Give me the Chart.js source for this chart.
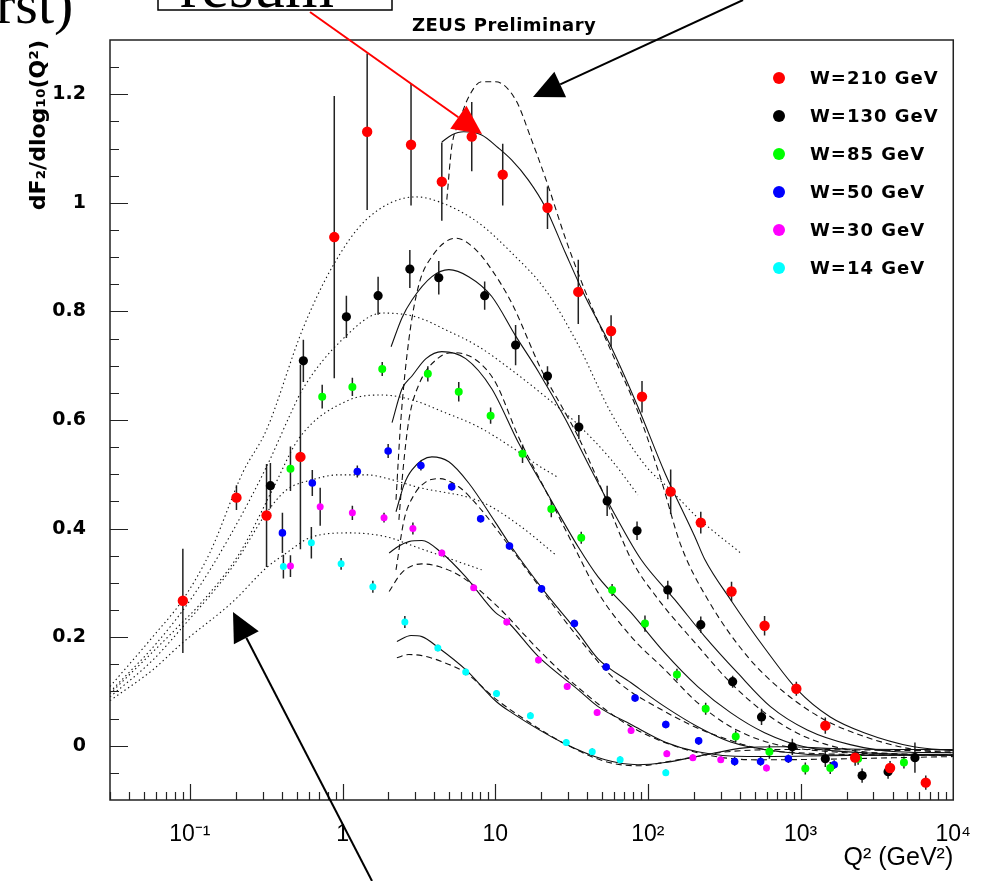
<!DOCTYPE html>
<html>
<head>
<meta charset="utf-8">
<script src="https://cdn.jsdelivr.net/npm/chart.js@4.4.0/dist/chart.umd.min.js"></script>
<style>
  html, body { margin: 0; padding: 0; background: #fff; }
  canvas { display: block; }
</style>
</head>
<body>
<canvas id="zeus" width="992" height="881"></canvas>
<script>
// Series labels and marker colours
const seriesLabels = ['W=210 GeV', 'W=130 GeV', 'W=85 GeV', 'W=50 GeV', 'W=30 GeV', 'W=14 GeV'];
const seriesColors = ['#ff0000', '#000000', '#00ff00', '#0000ff', '#ff00ff', '#00ffff'];

// Measured points: [Q2, dF2/dlog10(Q2), error]
const pts210 = [[0.09, 0.267, 0.096], [0.202, 0.457, 0.023], [0.318, 0.424, 0.095], [0.530, 0.532, 0.17],
  [0.883, 0.937, 0.26], [1.45, 1.131, 0.144], [2.81, 1.107, 0.112], [4.47, 1.039, 0.072], [7.02, 1.122, 0.064],
  [11.2, 1.052, 0.057], [22.0, 0.991, 0.039], [35.0, 0.836, 0.059], [57.4, 0.764, 0.029], [91.5, 0.643, 0.029],
  [141, 0.468, 0.041], [222, 0.411, 0.02], [353, 0.284, 0.018], [581, 0.221, 0.018], [938, 0.105, 0.013],
  [1452, 0.037, 0.015], [2277, -0.022, 0.015], [3855, -0.041, 0.013], [6607, -0.068, 0.013]];
const pts130 = [[0.337, 0.479, 0.042], [0.554, 0.709, 0.039], [1.06, 0.790, 0.039], [1.71, 0.829, 0.035],
  [2.76, 0.878, 0.035], [4.27, 0.862, 0.031], [8.53, 0.829, 0.026], [13.6, 0.738, 0.037], [22.0, 0.681, 0.018],
  [35.3, 0.587, 0.022], [54.1, 0.451, 0.028], [84.9, 0.396, 0.017], [135, 0.287, 0.017], [222, 0.223, 0.015],
  [359, 0.118, 0.011], [555, 0.053, 0.015], [883, -0.002, 0.015], [1452, -0.024, 0.015], [2529, -0.055, 0.013],
  [3741, -0.048, 0.013], [5610, -0.022, 0.028]];
const pts85 = [[0.456, 0.510, 0.041], [0.736, 0.643, 0.022], [1.16, 0.661, 0.017], [1.82, 0.694, 0.013],
  [3.62, 0.685, 0.014], [5.77, 0.652, 0.018], [9.33, 0.608, 0.015], [15.1, 0.538, 0.017], [23.3, 0.436, 0.015],
  [36.6, 0.383, 0.011], [58.3, 0.287, 0.011], [95.7, 0.225, 0.015], [155, 0.131, 0.011], [239, 0.068, 0.011],
  [376, 0.017, 0.011], [625, -0.011, 0.013], [1074, -0.042, 0.011], [1564, -0.041, 0.011], [2382, -0.024, 0.011],
  [4753, -0.031, 0.011]];
const pts50 = [[0.404, 0.392, 0.037], [0.634, 0.484, 0.024], [1.25, 0.505, 0.011], [1.99, 0.543, 0.013],
  [3.26, 0.516, 0.009], [5.19, 0.477, 0.007], [8.03, 0.418, 0.007], [12.4, 0.368, 0.007], [20.1, 0.289, 0.007],
  [33.0, 0.225, 0.007], [53.3, 0.145, 0.007], [82.4, 0.088, 0.007], [131, 0.039, 0.007], [215, 0.009, 0.007],
  [370, -0.029, 0.008], [547, -0.029, 0.008], [832, -0.024, 0.008], [1660, -0.035, 0.008]];
const pts30 = [[0.456, 0.331, 0.02], [0.714, 0.440, 0.035], [1.16, 0.429, 0.013], [1.87, 0.420, 0.009],
  [2.89, 0.400, 0.011], [4.47, 0.355, 0.006], [7.23, 0.291, 0.006], [11.9, 0.228, 0.006], [19.2, 0.158, 0.006],
  [29.6, 0.109, 0.006], [46.5, 0.061, 0.006], [77.6, 0.028, 0.006], [133, -0.015, 0.006], [197, -0.022, 0.006],
  [300, -0.026, 0.006], [598, -0.041, 0.006]];
const pts14 = [[0.410, 0.330, 0.022], [0.625, 0.374, 0.029], [0.979, 0.335, 0.011], [1.58, 0.293, 0.011],
  [2.56, 0.228, 0.011], [4.21, 0.180, 0.006], [6.41, 0.136, 0.006], [10.2, 0.096, 0.006], [17.0, 0.055, 0.006],
  [29.2, 0.006, 0.006], [43.2, -0.011, 0.006], [65.8, -0.026, 0.006], [131, -0.050, 0.006]];

// Model curves: [Q2, value]
const solid210 = [[4.47, 1.112], [5.19, 1.125], [6.22, 1.131], [8.15, 1.125], [10.5, 1.101], [12.8, 1.079],
  [16.5, 1.042], [21.3, 0.992], [28.8, 0.908], [38.9, 0.827], [57.4, 0.735], [86.1, 0.624], [129, 0.503],
  [203, 0.385], [236, 0.343], [348, 0.269], [581, 0.180], [953, 0.103], [1564, 0.053], [2606, 0.024],
  [5520, -0.002], [10000, -0.009]];
const dashed210 = [[4.82, 1.006], [5.19, 1.103], [5.77, 1.147], [6.70, 1.195], [8.15, 1.223], [10.05, 1.223],
  [13.6, 1.190], [17.3, 1.116], [22.3, 1.030], [28.8, 0.935], [38.9, 0.837], [57.4, 0.727], [86.1, 0.615],
  [122, 0.490], [164, 0.370], [247, 0.269], [450, 0.164], [784, 0.098], [1430, 0.048], [2606, 0.017],
  [5520, -0.007], [10000, -0.013]];
const solid130 = [[2.08, 0.735], [2.45, 0.788], [2.85, 0.821], [3.85, 0.864], [4.97, 0.877], [6.70, 0.864],
  [9.47, 0.828], [13.6, 0.755], [19.2, 0.689], [28.8, 0.602], [42.6, 0.508], [61.0, 0.425], [90.2, 0.343],
  [150, 0.269], [236, 0.201], [387, 0.134], [635, 0.072], [1107, 0.029], [2113, 0.002], [4274, -0.011],
  [10000, -0.013]];
const dashed130 = [[2.24, 0.453], [2.41, 0.600], [2.72, 0.748], [3.16, 0.849], [3.85, 0.901], [5.52, 0.935],
  [7.45, 0.914], [9.47, 0.877], [12.8, 0.816], [20.1, 0.692], [28.8, 0.613], [35.0, 0.569], [49.4, 0.475],
  [77.6, 0.344], [116, 0.271], [212, 0.184], [348, 0.116], [581, 0.061], [1059, 0.017], [2020, -0.007],
  [4274, -0.015], [10000, -0.017]];
const solid85 = [[2.11, 0.595], [2.45, 0.657], [2.85, 0.681], [3.52, 0.713], [4.47, 0.726], [6.41, 0.713],
  [9.47, 0.658], [14.2, 0.558], [21.3, 0.471], [35.0, 0.366], [47.2, 0.311], [77.6, 0.245], [129, 0.171],
  [212, 0.109], [348, 0.061], [581, 0.024], [1059, -0.002], [2606, -0.013], [10000, -0.017]];
const dashed85 = [[2.34, 0.416], [2.49, 0.508], [2.72, 0.600], [3.16, 0.665], [4.27, 0.715], [5.35, 0.724],
  [7.45, 0.711], [10.05, 0.669], [14.2, 0.569], [21.3, 0.471], [32.4, 0.370], [47.2, 0.282], [77.6, 0.201],
  [129, 0.140], [212, 0.079], [348, 0.035], [635, 0.005], [1564, -0.011], [10000, -0.017]];
const solid50 = [[2.24, 0.431], [2.53, 0.481], [2.85, 0.508], [3.85, 0.532], [4.97, 0.523], [6.70, 0.484],
  [10.05, 0.411], [12.8, 0.366], [21.3, 0.282], [35.0, 0.208], [47.2, 0.160], [77.6, 0.116], [129, 0.072],
  [212, 0.035], [348, 0.007], [738, -0.011], [1564, -0.017], [10000, -0.017]];
const dashed50 = [[2.24, 0.324], [2.53, 0.416], [2.94, 0.462], [3.52, 0.486], [4.27, 0.492], [5.77, 0.477],
  [7.80, 0.440], [12.2, 0.370], [21.3, 0.278], [35.0, 0.199], [61.0, 0.122], [129, 0.063], [273, 0.020],
  [738, -0.011], [10000, -0.018]];
const solid30 = [[2.02, 0.355], [2.34, 0.368], [2.72, 0.376], [3.31, 0.378], [4.47, 0.355], [6.41, 0.311],
  [10.05, 0.245], [11.7, 0.232], [19.2, 0.164], [35.0, 0.103], [47.2, 0.072], [77.6, 0.039], [129, 0.007],
  [212, -0.011], [450, -0.020], [2020, -0.018], [10000, -0.017]];
const dashed30 = [[2.02, 0.284], [2.45, 0.319], [3.31, 0.335], [4.27, 0.330], [6.04, 0.311], [10.05, 0.260],
  [19.2, 0.177], [35.0, 0.107], [77.6, 0.035], [212, -0.013], [522, -0.026], [10000, -0.020]];
const solid14 = [[2.27, 0.192], [2.81, 0.203], [3.31, 0.201], [4.27, 0.180], [6.41, 0.140], [10.2, 0.081],
  [12.8, 0.061], [27.1, 0.007], [52.5, -0.026], [86.1, -0.035], [129, -0.031], [236, -0.017], [430, -0.004],
  [738, -0.002], [2020, -0.006], [10000, -0.007]];
const dashed14 = [[2.27, 0.162], [2.72, 0.168], [3.31, 0.166], [4.47, 0.155], [6.41, 0.134], [10.2, 0.085],
  [16.5, 0.044], [27.1, 0.007], [52.5, -0.029], [86.1, -0.037], [157, -0.026], [333, -0.011], [953, -0.007],
  [10000, -0.010]];
const dotted210 = [[0.030, 0.109], [0.0573, 0.201], [0.0899, 0.269], [0.135, 0.355], [0.222, 0.503],
  [0.318, 0.582], [0.546, 0.766], [0.857, 0.882], [1.43, 0.969], [3.03, 1.011], [4.47, 1.000], [7.80, 0.963],
  [12.8, 0.908], [21.3, 0.840], [35.0, 0.738], [57.4, 0.613], [95.7, 0.517], [141, 0.471], [212, 0.420],
  [405, 0.355]];
const dotted130 = [[0.030, 0.099], [0.061, 0.190], [0.104, 0.274], [0.182, 0.385], [0.318, 0.514],
  [0.470, 0.619], [0.546, 0.656], [0.995, 0.748], [1.82, 0.797], [3.03, 0.790], [4.75, 0.766], [7.80, 0.735],
  [12.8, 0.692], [21.3, 0.643], [35.0, 0.591], [57.4, 0.527], [86.1, 0.462]];
const dotted85 = [[0.030, 0.096], [0.0573, 0.173], [0.0899, 0.228], [0.116, 0.260], [0.212, 0.355],
  [0.347, 0.471], [0.521, 0.567], [1.11, 0.637], [1.82, 0.646], [2.85, 0.637], [4.75, 0.613], [7.80, 0.587],
  [12.8, 0.550], [19.2, 0.516], [25.9, 0.494]];
const dotted50 = [[0.030, 0.090], [0.0573, 0.158], [0.0899, 0.219], [0.191, 0.330], [0.318, 0.429],
  [0.429, 0.471], [0.634, 0.490], [0.951, 0.499], [1.43, 0.499], [2.11, 0.490], [3.03, 0.477], [8.15, 0.449],
  [14.2, 0.407], [24.8, 0.352]];
const dotted30 = [[0.030, 0.083], [0.0573, 0.140], [0.0899, 0.190], [0.191, 0.265], [0.318, 0.328],
  [0.429, 0.355], [0.634, 0.385], [1.11, 0.392], [1.93, 0.385], [3.03, 0.366], [8.15, 0.324]];

// Axis ticks
const xTickVals = [0.1, 1, 10, 100, 1000, 10000];
const xTickLabels = ['10\u207B\u00B9', '1', '10', '10\u00B2', '10\u00B3', '10\u2074'];
const yTickVals = [0, 0.2, 0.4, 0.6, 0.8, 1, 1.2];
const yTickLabels = ['0', '0.2', '0.4', '0.6', '0.8', '1', '1.2'];

const pointSets = [pts210, pts130, pts85, pts50, pts30, pts14];
const solidSets = [solid210, solid130, solid85, solid50, solid30, solid14];
const dashedSets = [dashed210, dashed130, dashed85, dashed50, dashed30, dashed14];
const dottedSets = [dotted210, dotted130, dotted85, dotted50, dotted30];
const markerSize = [5.2, 4.6, 4, 3.8, 3.5, 3.5];

const toXY = arr => arr.map(p => ({ x: p[0], y: p[1] }));

let datasets = [];
pointSets.forEach((pts, i) => {
	datasets.push({
		label: seriesLabels[i],
		isPoints: true,
		data: toXY(pts),
		errors: pts.map(p => p[2]),
		backgroundColor: seriesColors[i],
		borderWidth: 0,
		pointRadius: markerSize[i],
		showLine: false
	});
});

function curve(arr, dash) {
	return {
		data: toXY(arr),
		showLine: true,
		borderColor: '#111',
		borderWidth: 1.1,
		borderDash: dash,
		pointRadius: 0,
		cubicInterpolationMode: 'monotone',
		fill: false
	};
}
solidSets.forEach(c => datasets.push(curve(c, [])));
dashedSets.forEach(c => datasets.push(curve(c, [6, 4])));
dottedSets.forEach(c => datasets.push(curve(c, [1.4, 3])));

function arrow(ctx, x0, y0, tx, ty, len, half, color) {
	const a = Math.atan2(ty - y0, tx - x0);
	const bx = tx - len * Math.cos(a), by = ty - len * Math.sin(a);
	ctx.strokeStyle = color;
	ctx.fillStyle = color;
	ctx.lineWidth = 2;
	ctx.beginPath();
	ctx.moveTo(x0, y0);
	ctx.lineTo(bx, by);
	ctx.stroke();
	ctx.beginPath();
	ctx.moveTo(tx, ty);
	ctx.lineTo(bx - half * Math.sin(a), by + half * Math.cos(a));
	ctx.lineTo(bx + half * Math.sin(a), by - half * Math.cos(a));
	ctx.closePath();
	ctx.fill();
}

const rootStyle = {
	id: 'rootStyle',
	beforeDatasetsDraw(chart) {
		// error bars
		const { ctx, chartArea: a, scales: { x, y } } = chart;
		ctx.save();
		ctx.beginPath();
		ctx.rect(a.left, a.top, a.right - a.left, a.bottom - a.top);
		ctx.clip();
		ctx.strokeStyle = '#222';
		ctx.lineWidth = 1.5;
		chart.data.datasets.forEach(ds => {
			if (!ds.errors) return;
			ds.data.forEach((p, j) => {
				const px = x.getPixelForValue(p.x);
				ctx.beginPath();
				ctx.moveTo(px, y.getPixelForValue(p.y + ds.errors[j]));
				ctx.lineTo(px, y.getPixelForValue(p.y - ds.errors[j]));
				ctx.stroke();
			});
		});
		ctx.restore();
	},
	afterDatasetsDraw(chart) {
		// frame and inward ticks
		const { ctx, chartArea: a, scales: { x, y } } = chart;
		ctx.save();
		ctx.strokeStyle = '#222';
		ctx.lineWidth = 1.5;
		ctx.strokeRect(a.left, a.top, a.right - a.left, a.bottom - a.top);
		ctx.lineWidth = 1.2;
		ctx.beginPath();
		for (let v = -0.05; v < 1.3; v += 0.05) {
			const py = Math.round(y.getPixelForValue(v)) + 0.5;
			const major = Math.abs(v * 5 - Math.round(v * 5)) < 1e-6;
			ctx.moveTo(a.left, py);
			ctx.lineTo(a.left + (major ? 18 : 9), py);
		}
		for (let d = 0.01; d < 10000; d *= 10) {
			for (let m = 1; m < 10; m++) {
				const v = d * m;
				if (v < 0.03 || v > 10000) continue;
				const px = Math.round(x.getPixelForValue(v)) + 0.5;
				ctx.moveTo(px, a.bottom);
				ctx.lineTo(px, a.bottom - (m === 1 ? 16 : 8));
			}
		}
		ctx.stroke();
		ctx.restore();
	},
	afterDraw(chart) {
		const { ctx } = chart;
		ctx.save();
		// legend
		ctx.font = 'bold 18px "DejaVu Sans"';
		ctx.letterSpacing = '1px';
		ctx.textBaseline = 'middle';
		chart.data.datasets.filter(d => d.isPoints).forEach((ds, i) => {
			const ly = 78 + i * 38;
			ctx.fillStyle = ds.backgroundColor;
			ctx.beginPath();
			ctx.arc(779, ly, 6, 0, Math.PI * 2);
			ctx.fill();
			ctx.fillStyle = '#000';
			ctx.fillText(ds.label, 810, ly + 1);
		});
		// header
		ctx.font = 'bold 18px "DejaVu Sans"';
		ctx.letterSpacing = '0.5px';
		ctx.textBaseline = 'alphabetic';
		ctx.fillText('ZEUS Preliminary', 412, 31);
		ctx.letterSpacing = '0px';
		// slide annotations cut at the top edge
		ctx.font = '58px "Liberation Serif"';
		ctx.fillText('rst)', -4, 23);
		ctx.font = '63px "Liberation Serif"';
		ctx.fillText('resum', 180, 7);
		ctx.strokeStyle = '#000';
		ctx.lineWidth = 1.5;
		ctx.strokeRect(158, -20, 234, 30);
		arrow(ctx, 310, 12, 482, 134, 29, 14, '#ff0000');
		arrow(ctx, 743, 0, 533, 97, 30, 14, '#000');
		arrow(ctx, 372, 881, 233, 612, 29, 14, '#000');
		ctx.restore();
	}
};

new Chart(document.getElementById('zeus').getContext('2d'), {
	type: 'scatter',
	data: { datasets: datasets },
	options: {
		responsive: false,
		animation: false,
		events: [],
		layout: { padding: { top: 40, right: 35, bottom: 0, left: 0 } },
		plugins: { legend: { display: false }, tooltip: { enabled: false } },
		scales: {
			x: {
				type: 'logarithmic',
				min: 0.03,
				max: 10000,
				grid: { display: false, drawTicks: false },
				border: { display: false },
				afterBuildTicks: s => { s.ticks = xTickVals.map(v => ({ value: v })); },
				afterFit: s => { s.height = 81; },
				ticks: {
					autoSkip: false,
					maxRotation: 0,
					padding: 21,
					color: '#000',
					font: { family: 'Liberation Sans', size: 23 },
					callback: (v, i) => xTickLabels[i]
				},
				title: {
					display: true,
					text: 'Q\u00B2 (GeV\u00B2)',
					align: 'end',
					color: '#000',
					font: { family: 'Liberation Sans', size: 25 },
					padding: { top: 0, bottom: 8 }
				}
			},
			y: {
				min: -0.1,
				max: 1.3,
				grid: { display: false, drawTicks: false },
				border: { display: false },
				afterBuildTicks: s => { s.ticks = yTickVals.map(v => ({ value: v })); },
				afterFit: s => { s.width = 110; },
				ticks: {
					padding: 24,
					color: '#000',
					font: { family: 'DejaVu Sans', size: 19, weight: 'bold' },
					callback: (v, i) => yTickLabels[i]
				},
				title: {
					display: true,
					text: 'dF\u2082/dlog\u2081\u2080(Q\u00B2)',
					align: 'end',
					color: '#000',
					font: { family: 'DejaVu Sans', size: 22, weight: 'bold' },
					padding: { top: 26, bottom: 0 }
				}
			}
		}
	},
	plugins: [rootStyle]
});
</script>
</body>
</html>
